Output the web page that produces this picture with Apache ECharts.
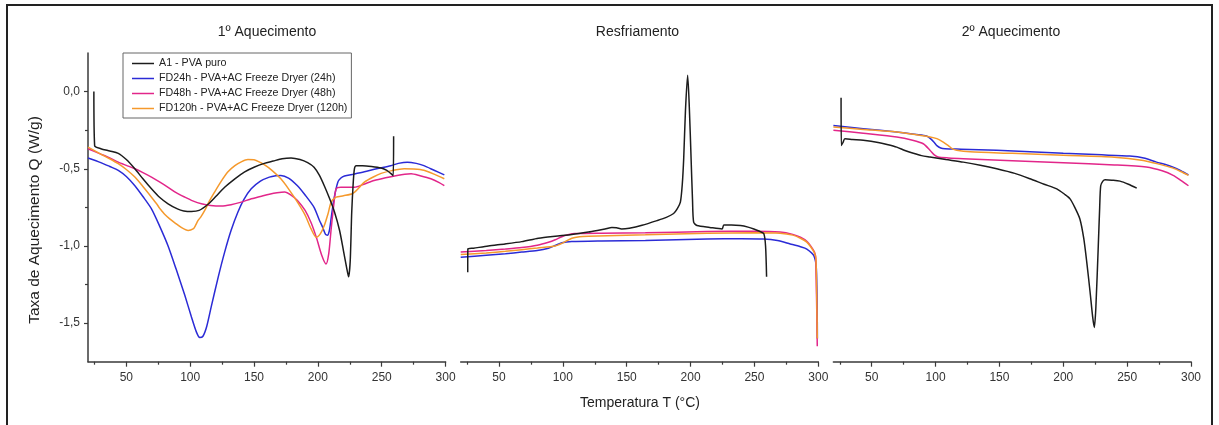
<!DOCTYPE html>
<html><head><meta charset="utf-8">
<script src="https://cdn.jsdelivr.net/npm/echarts@6/dist/echarts.min.js"></script>
<style>html,body{margin:0;padding:0;background:#fff}#c{width:1219px;height:425px}</style>
</head><body><div id="c"></div>
<script>
// ---------- DATA ----------
const seriesNames = ['A1 - PVA puro','FD24h - PVA+AC Freeze Dryer (24h)','FD48h - PVA+AC Freeze Dryer (48h)','FD120h - PVA+AC Freeze Dryer (120h)'];
const panelTitles = ['1º Aquecimento','Resfriamento','2º Aquecimento'];
const xMajorTicks = [50,100,150,200,250,300];
const xMinorTicks = [25,75,125,175,225,275];
const yMajorTicks = [-1.5,-1.0,-0.5,0.0];
const yMinorTicks = [-1.25,-0.75,-0.25];
const yAxisTitle = 'Taxa de Aquecimento Q (W/g)';
const xAxisTitle = 'Temperatura T (°C)';

// 1º Aquecimento
const a1Heat1 = [[24.6,0.0],[25.2,-0.35],[30,-0.37],[37,-0.385],[43.7,-0.40],[50,-0.44],[56.7,-0.50],[63,-0.565],[69.7,-0.63],[76,-0.685],[82.7,-0.727],[90,-0.76],[95,-0.773],[101,-0.777],[107,-0.77],[114,-0.73],[120,-0.68],[127,-0.62],[135,-0.565],[142.7,-0.52],[150,-0.49],[158,-0.465],[165,-0.45],[172,-0.435],[179,-0.43],[186,-0.44],[192,-0.46],[197,-0.49],[201,-0.54],[205,-0.61],[209,-0.69],[213,-0.78],[217,-0.9],[220,-1.03],[222.5,-1.14],[224,-1.20],[225.3,-1.1],[226.5,-0.78],[227.6,-0.6],[228.6,-0.50],[230,-0.48],[235,-0.48],[242,-0.485],[249.5,-0.495],[254,-0.51],[257,-0.53],[259,-0.545],[259.3,-0.29]];
const fd24Heat1 = [[20,-0.43],[30,-0.46],[37,-0.485],[43.7,-0.51],[50,-0.55],[56.7,-0.61],[63,-0.68],[69.7,-0.76],[76,-0.87],[82.7,-1.0],[89,-1.15],[95.8,-1.32],[101,-1.46],[105,-1.56],[107.5,-1.593],[110,-1.585],[113,-1.52],[116.6,-1.39],[122,-1.2],[127,-1.04],[132,-0.9],[137.4,-0.78],[142,-0.7],[147.8,-0.63],[155,-0.58],[162,-0.554],[167,-0.545],[171,-0.543],[177,-0.56],[184,-0.61],[190,-0.67],[197,-0.75],[201,-0.83],[203.8,-0.88],[206,-0.925],[207.5,-0.93],[209,-0.9],[210.4,-0.82],[212.5,-0.7],[215.6,-0.587],[218,-0.56],[220.8,-0.547],[228,-0.535],[236.4,-0.52],[246,-0.5],[257,-0.48],[263,-0.465],[270,-0.457],[277,-0.465],[283,-0.48],[291,-0.51],[299,-0.54]];
const fd48Heat1 = [[20,-0.37],[30,-0.405],[37,-0.43],[43.7,-0.457],[50,-0.478],[56.7,-0.50],[63,-0.525],[69.7,-0.554],[76,-0.585],[82.7,-0.62],[89,-0.655],[95.8,-0.684],[102,-0.708],[108.8,-0.727],[116,-0.738],[124.4,-0.742],[132,-0.733],[140,-0.716],[147,-0.697],[155,-0.68],[162,-0.665],[168,-0.655],[174,-0.65],[179,-0.67],[184,-0.705],[190,-0.77],[194.7,-0.85],[199,-0.95],[203,-1.06],[206.4,-1.117],[208.5,-1.05],[210.4,-0.89],[212.5,-0.73],[214.3,-0.63],[218,-0.62],[223,-0.62],[228.6,-0.62],[236,-0.6],[244,-0.576],[253,-0.558],[262,-0.543],[268,-0.535],[273,-0.532],[280,-0.545],[288.5,-0.565],[295,-0.59],[299,-0.61]];
const fd120Heat1 = [[20,-0.36],[30,-0.405],[37,-0.435],[43.7,-0.467],[50,-0.505],[56.7,-0.554],[63,-0.615],[69.7,-0.684],[74,-0.73],[76,-0.755],[77.5,-0.77],[80,-0.795],[84,-0.825],[88,-0.85],[93,-0.88],[98.4,-0.90],[102.3,-0.89],[104,-0.87],[106.2,-0.835],[108.5,-0.81],[111.4,-0.77],[115,-0.71],[119.2,-0.65],[124,-0.585],[129.6,-0.52],[135,-0.48],[140,-0.455],[145.2,-0.44],[150,-0.442],[154,-0.455],[158,-0.474],[164,-0.51],[171,-0.565],[177,-0.63],[184,-0.716],[190,-0.8],[194.7,-0.89],[198.7,-0.944],[202,-0.92],[205,-0.868],[208,-0.79],[210.4,-0.716],[214.3,-0.684],[220,-0.675],[227.3,-0.66],[232,-0.625],[236.4,-0.587],[243,-0.555],[249.5,-0.53],[258,-0.512],[267.6,-0.50],[275,-0.502],[283,-0.51],[291,-0.535],[299,-0.565]];

// Resfriamento
const a1Cool = [[25.5,-1.17],[25.6,-1.02],[30,-1.015],[41.6,-1.0],[54.7,-0.987],[67.8,-0.972],[80.9,-0.95],[94,-0.937],[107,-0.926],[120,-0.91],[128,-0.898],[133,-0.89],[138.4,-0.88],[142,-0.882],[146,-0.89],[152,-0.885],[162,-0.866],[173.7,-0.836],[181,-0.815],[186.7,-0.79],[189.5,-0.76],[192,-0.716],[193.5,-0.6],[194.6,-0.435],[196,-0.12],[197.7,0.106],[199,-0.1],[200.4,-0.435],[201.5,-0.7],[202.4,-0.846],[205,-0.868],[215,-0.88],[224.7,-0.89],[226,-0.864],[232,-0.864],[239,-0.868],[245,-0.878],[249.5,-0.89],[254,-0.905],[257.3,-0.92],[258.7,-1.0],[259.5,-1.2]];
const fd24Cool = [[20,-1.074],[40,-1.06],[55,-1.05],[67.8,-1.04],[80,-1.03],[88.7,-1.015],[94,-0.997],[99.2,-0.98],[107,-0.972],[130,-0.968],[164.6,-0.965],[213,-0.955],[240,-0.953],[257,-0.955],[268,-0.965],[278,-0.987],[286,-1.005],[291,-1.02],[296.5,-1.063],[298.5,-1.15],[299.3,-1.6]];
const fd48Cool = [[20,-1.04],[40,-1.03],[55,-1.02],[67.8,-1.01],[80,-0.995],[88.7,-0.976],[94,-0.96],[99.2,-0.94],[104,-0.928],[109.6,-0.92],[130,-0.917],[164.6,-0.915],[213,-0.907],[250,-0.905],[270,-0.91],[280,-0.925],[286,-0.944],[291,-0.97],[294,-1.0],[297,-1.04],[298,-1.08],[299.2,-1.65]];
const fd120Cool = [[20,-1.056],[40,-1.045],[55,-1.035],[67.8,-1.024],[80,-1.013],[94,-1.0],[100,-0.98],[107,-0.95],[113,-0.94],[120,-0.937],[164.6,-0.928],[213,-0.918],[250,-0.915],[270,-0.918],[280,-0.93],[286,-0.95],[291,-0.975],[294,-1.005],[297,-1.045],[298.2,-1.09],[299.2,-1.6]];

// 2º Aquecimento
const a1Heat2 = [[26,-0.04],[26.2,-0.35],[27.5,-0.33],[29,-0.305],[35,-0.31],[43.4,-0.316],[55,-0.33],[62,-0.343],[69.6,-0.36],[76,-0.382],[82.6,-0.40],[89,-0.415],[95.6,-0.424],[108,-0.44],[121.7,-0.457],[135,-0.477],[147.9,-0.50],[162,-0.53],[174,-0.565],[185,-0.6],[194.9,-0.63],[201,-0.665],[205.3,-0.695],[209,-0.75],[213,-0.825],[216,-0.95],[218.4,-1.106],[221,-1.3],[223,-1.46],[224.3,-1.528],[225.5,-1.4],[227.4,-1.0],[228.5,-0.75],[229.3,-0.61],[231,-0.58],[232.7,-0.571],[238,-0.574],[244.4,-0.58],[251,-0.6],[257.5,-0.625]];
const fd24Heat2 = [[20,-0.22],[43.4,-0.24],[69.6,-0.262],[85,-0.278],[93,-0.288],[96,-0.305],[99,-0.33],[101,-0.35],[104,-0.365],[107.4,-0.37],[120,-0.373],[147.9,-0.38],[200,-0.40],[230,-0.41],[252,-0.418],[263,-0.43],[273,-0.457],[280,-0.472],[286,-0.49],[292,-0.513],[298,-0.54]];
const fd48Heat2 = [[20,-0.25],[43.4,-0.27],[69.6,-0.294],[82,-0.315],[90.4,-0.338],[95.6,-0.38],[99,-0.41],[102,-0.424],[110,-0.43],[121.7,-0.435],[160,-0.448],[200,-0.461],[240,-0.475],[265,-0.489],[278,-0.515],[286,-0.543],[292,-0.575],[298,-0.61]];
const fd120Heat2 = [[20,-0.23],[43.4,-0.245],[69.6,-0.262],[85,-0.28],[95.6,-0.294],[101,-0.305],[106,-0.327],[110,-0.35],[113,-0.37],[116.5,-0.38],[127,-0.39],[160,-0.4],[200,-0.413],[240,-0.425],[262.7,-0.446],[275,-0.47],[286,-0.496],[292,-0.518],[298,-0.543]];

// ---------- CHART ----------
const colors = ['#1c1c1c','#2b2bd6','#e2268a','#f5992c'];
const FONT = 'Liberation Sans';
const AX = '#3a3a3a';
const gridLefts = [88, 460.7, 833.4];
const titleX = [267, 637.5, 1011];
const panels = [
  [a1Heat1, fd24Heat1, fd48Heat1, fd120Heat1],
  [a1Cool, fd24Cool, fd48Cool, fd120Cool],
  [a1Heat2, fd24Heat2, fd48Heat2, fd120Heat2]
];

const grid = gridLefts.map(l => ({left:l, top:53, width:357.6, height:308.7}));
const xAxis = [];
gridLefts.forEach((l,i) => {
  xAxis.push({type:'value', gridIndex:i, min:20, max:300, position:'bottom',
    axisLine:{show:true, onZero:false, lineStyle:{color:AX, width:1.5}},
    axisTick:{show:true, customValues:xMajorTicks, length:5, lineStyle:{color:AX, width:1.2}},
    axisLabel:{customValues:xMajorTicks, color:'#333', fontSize:12, fontFamily:FONT, margin:10},
    splitLine:{show:false}});
});
gridLefts.forEach((l,i) => {
  xAxis.push({type:'value', gridIndex:i, min:20, max:300, position:'bottom', offset:0,
    axisLine:{show:false, onZero:false},
    axisTick:{show:true, customValues:xMinorTicks, length:3, lineStyle:{color:AX, width:1.2}},
    axisLabel:{show:false}, splitLine:{show:false}});
});
const yAxis = [];
gridLefts.forEach((l,i) => {
  yAxis.push({type:'value', gridIndex:i, min:-1.75, max:0.25, show:i===0,
    axisLine:{show:true, onZero:false, lineStyle:{color:AX, width:1.5}},
    axisTick:{show:true, customValues:yMajorTicks, length:4, lineStyle:{color:AX, width:1.2}},
    axisLabel:{customValues:yMajorTicks, color:'#333', fontSize:12, fontFamily:FONT, margin:8,
      formatter:v => v.toFixed(1).replace('.',',')},
    splitLine:{show:false}});
});
yAxis.push({type:'value', gridIndex:0, min:-1.75, max:0.25, position:'left', offset:0,
  axisLine:{show:false, onZero:false},
  axisTick:{show:true, customValues:yMinorTicks, length:3, lineStyle:{color:AX, width:1.2}},
  axisLabel:{show:false}, splitLine:{show:false}});

const series = [];
panels.forEach((p,i) => {
  p.forEach((d,k) => {
    series.push({type:'line', name:seriesNames[k], xAxisIndex:i, yAxisIndex:i, data:d,
      symbol:'none', smooth:0.25, z: k===0 ? 5 : 3,
      lineStyle:{color:colors[k], width:1.5}, itemStyle:{color:colors[k]}});
  });
});

const graphic = [
  {type:'rect', shape:{x:7, y:5, width:1205, height:470}, style:{fill:'none', stroke:'#222', lineWidth:2}, silent:true},
  {type:'text', x:35, y:220, rotation:Math.PI/2,
    style:{text:yAxisTitle, align:'center', verticalAlign:'middle', font:'15.5px "Liberation Sans"', fill:'#222'}},
  {type:'text', x:640, y:403,
    style:{text:xAxisTitle, align:'center', verticalAlign:'middle', font:'14px "Liberation Sans"', fill:'#222'}}
];
panelTitles.forEach((t,i) => graphic.push({type:'text', x:titleX[i], y:32,
  style:{text:t, align:'center', verticalAlign:'middle', font:'14px "Liberation Sans"', fill:'#222'}}));

const chart = echarts.init(document.getElementById('c'), null, {renderer:'canvas'});
chart.setOption({
  animation:false,
  backgroundColor:'#fff',
  grid, xAxis, yAxis, series, graphic,
  legend:{data:seriesNames, orient:'vertical', left:123, top:53,
    icon:'rect', padding:[4,4,3,9], itemGap:2, itemWidth:22, itemHeight:1.5,
    borderColor:'#666', borderWidth:1, backgroundColor:'#fff',
    textStyle:{fontSize:10.7, fontFamily:FONT, color:'#222', lineHeight:13}}
});
</script></body></html>
